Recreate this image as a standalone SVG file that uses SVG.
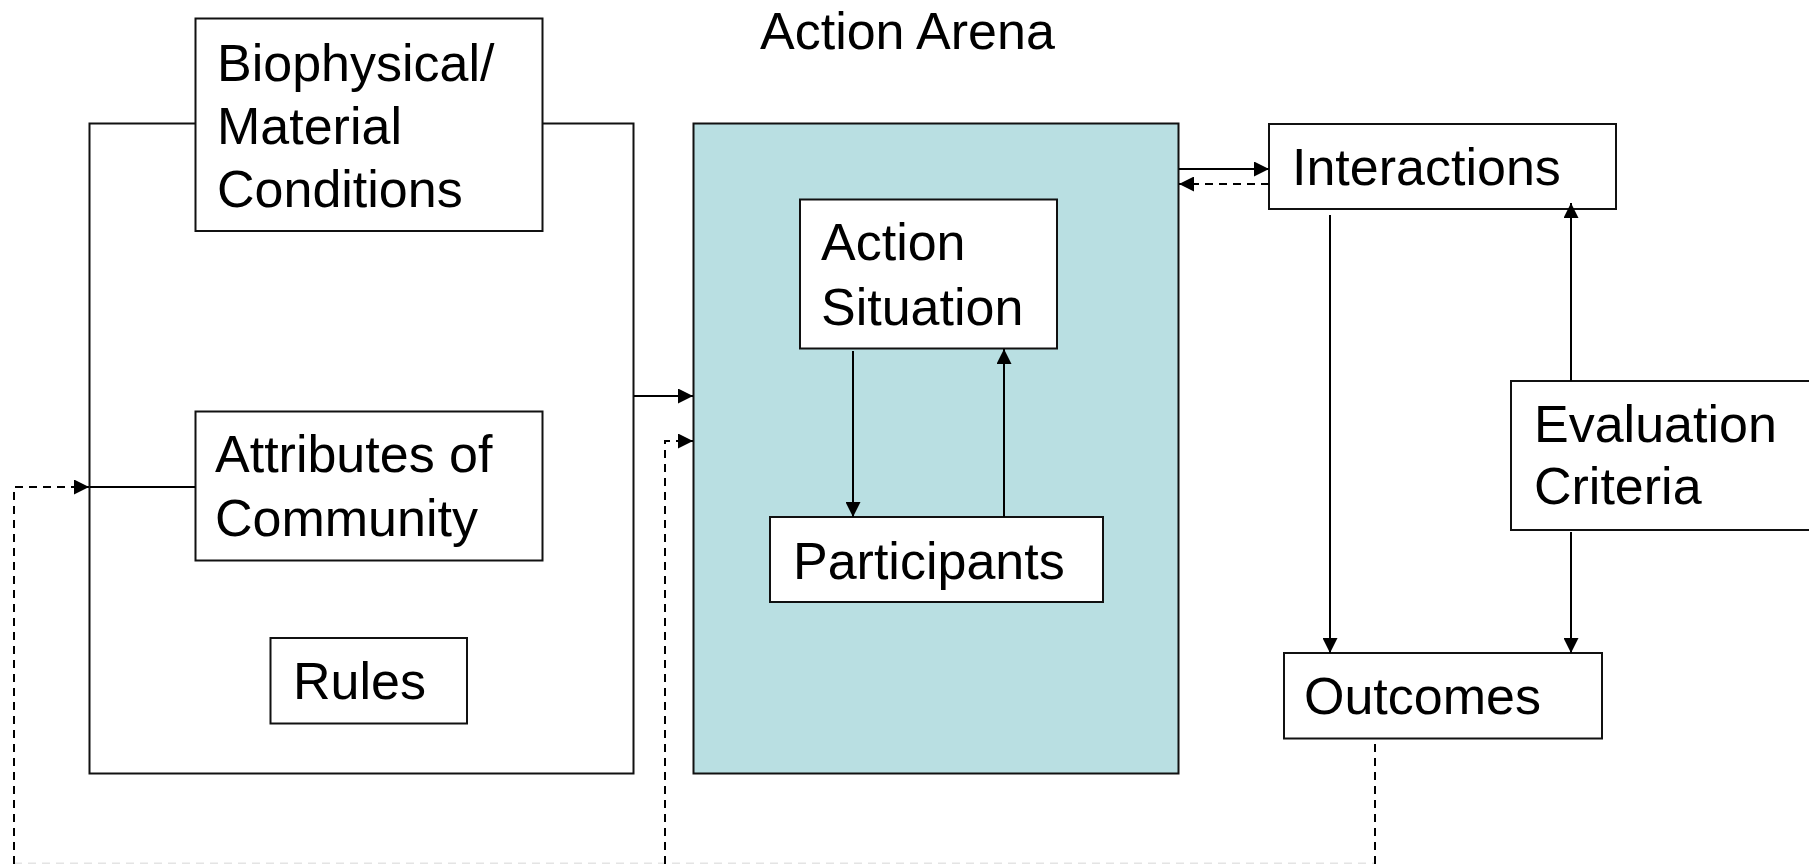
<svg xmlns="http://www.w3.org/2000/svg" width="1809" height="864" viewBox="0 0 1809 864">
<style>
.box{fill:#fff;stroke:#111;stroke-width:2}
.arena{fill:#b9dfe2;stroke:#111;stroke-width:2}
.lbl{font-family:"Liberation Sans",Arial,sans-serif;font-size:52px;fill:#000}
.ln{fill:none;stroke:#000;stroke-width:2}
.dash{fill:none;stroke:#000;stroke-width:2;stroke-dasharray:8,6}
.faint{fill:none;stroke:#e4e4e4;stroke-width:2;stroke-dasharray:8,6}
</style>
<defs>
<marker id="ah" markerUnits="userSpaceOnUse" markerWidth="15" markerHeight="15" viewBox="0 0 15 15" refX="15" refY="7.5" orient="auto">
<path d="M0,0 L15,7.5 L0,15 z" fill="#000"/>
</marker>
</defs>
<rect width="1809" height="864" fill="#fff"/>
<g id="context">
<rect class="box" x="89.5" y="123.5" width="544" height="650"/>
</g>
<g id="biophysical">
<rect class="box" x="195.5" y="18.5" width="347" height="212.5"/>
<text class="lbl" x="217" y="81">Biophysical/</text>
<text class="lbl" x="217" y="144">Material</text>
<text class="lbl" x="217" y="207">Conditions</text>
</g>
<g id="attributes">
<rect class="box" x="195.5" y="411.5" width="347" height="149"/>
<text class="lbl" x="215" y="472">Attributes of</text>
<text class="lbl" x="215" y="536">Community</text>
</g>
<g id="rules">
<rect class="box" x="270.5" y="638" width="196.5" height="85.5"/>
<text class="lbl" x="293" y="699">Rules</text>
</g>
<g id="action-arena">
<rect class="arena" x="693.5" y="123.5" width="485" height="650"/>
<text class="lbl" x="760" y="49">Action Arena</text>
</g>
<g id="action-situation">
<rect class="box" x="800" y="199.5" width="257" height="149"/>
<text class="lbl" x="821" y="260">Action</text>
<text class="lbl" x="821" y="325">Situation</text>
</g>
<g id="participants">
<rect class="box" x="770" y="517" width="333" height="85"/>
<text class="lbl" x="793" y="579">Participants</text>
</g>
<g id="interactions">
<rect class="box" x="1269" y="124" width="347" height="85"/>
<text class="lbl" x="1292" y="185">Interactions</text>
</g>
<g id="evaluation">
<rect class="box" x="1511" y="381" width="320" height="149"/>
<text class="lbl" x="1534" y="442">Evaluation</text>
<text class="lbl" x="1534" y="504">Criteria</text>
</g>
<g id="outcomes">
<rect class="box" x="1284" y="653" width="318" height="85.5"/>
<text class="lbl" x="1304" y="714">Outcomes</text>
</g>
<g id="connectors">
<line class="ln" x1="195" y1="487" x2="90" y2="487"/>
<line class="ln" x1="634" y1="396" x2="693" y2="396" marker-end="url(#ah)"/>
<line class="ln" x1="853" y1="351" x2="853" y2="517" marker-end="url(#ah)"/>
<line class="ln" x1="1004" y1="517" x2="1004" y2="349" marker-end="url(#ah)"/>
<line class="ln" x1="1179" y1="169" x2="1269" y2="169" marker-end="url(#ah)"/>
<line class="dash" x1="1269" y1="184" x2="1179" y2="184" marker-end="url(#ah)"/>
<line class="ln" x1="1330" y1="215" x2="1330" y2="653" marker-end="url(#ah)"/>
<line class="ln" x1="1571" y1="381" x2="1571" y2="203" marker-end="url(#ah)"/>
<line class="ln" x1="1571" y1="532" x2="1571" y2="653" marker-end="url(#ah)"/>
<line class="faint" x1="14" y1="863.5" x2="1375" y2="863.5"/>
<line class="dash" x1="1375" y1="744" x2="1375" y2="864"/>
<polyline class="dash" points="14,864 14,487 89,487" marker-end="url(#ah)"/>
<polyline class="dash" points="665,864 665,441 693,441" marker-end="url(#ah)"/>
</g>
</svg>
